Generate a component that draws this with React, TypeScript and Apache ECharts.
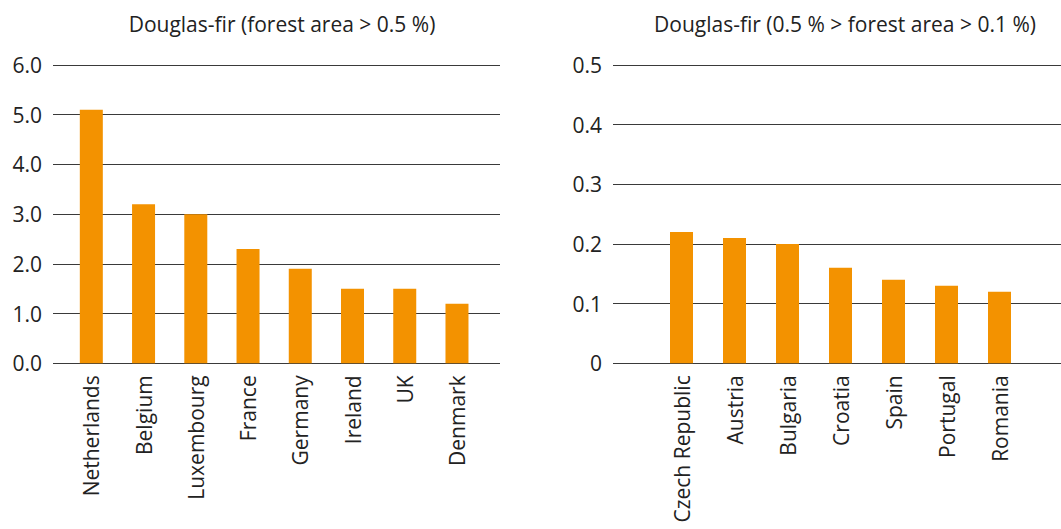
import React, { useEffect, useRef } from "react";
import * as echarts from "echarts";

const leftTitle = "Douglas-fir (forest area > 0.5 %)";
const rightTitle = "Douglas-fir (0.5 % > forest area > 0.1 %)";
const leftCategories = ["Netherlands", "Belgium", "Luxembourg", "France", "Germany", "Ireland", "UK", "Denmark"];
const leftValues = [5.1, 3.2, 3.0, 2.3, 1.9, 1.5, 1.5, 1.2];
const rightCategories = ["Czech Republic", "Austria", "Bulgaria", "Croatia", "Spain", "Portugal", "Romania"];
const rightValues = [0.22, 0.21, 0.2, 0.16, 0.14, 0.13, 0.12];

const FONT = "'Open Sans', sans-serif";
const TEXT = "#222";
const ORANGE = "#F39200";
const LINE = "#3a3a3a";
const FS = 21;

export default function App() {
  const ref = useRef<HTMLDivElement>(null);
  useEffect(() => {
    document.body.style.margin = "0";
    const chart = echarts.init(ref.current!, null, { renderer: "svg" });
    const top = 65;
    const h = 298.3;
    const yLine = (min: number, max: number, interval: number, grid: number, fmt: (v: number) => string, show: boolean) => ({
      type: "value",
      gridIndex: grid,
      min,
      max,
      interval,
      axisLine: { show: false },
      axisTick: { show: false },
      axisLabel: {
        show,
        margin: 11,
        color: TEXT,
        fontFamily: FONT,
        fontSize: FS,
        formatter: fmt,
      },
      splitLine: { show, lineStyle: { color: LINE, width: 1 } },
    });
    const xLabel = { rotate: 90, margin: 12, color: TEXT, fontFamily: FONT, fontSize: FS, interval: 0 };
    const option = {
      animation: false,
      backgroundColor: "#fff",
      textStyle: { fontFamily: FONT },
      title: [
        {
          text: leftTitle,
          left: 277,
          top: 8,
          textAlign: "center",
          textStyle: { fontFamily: FONT, fontSize: FS, fontWeight: "normal", color: TEXT },
        },
        {
          text: rightTitle,
          left: 840,
          top: 8,
          textAlign: "center",
          textStyle: { fontFamily: FONT, fontSize: FS, fontWeight: "normal", color: TEXT },
        },
      ],
      grid: [
        { left: 53, top, width: 447, height: h },
        { left: 65.2, top, width: 417.9, height: h },
        { left: 613, top, width: 448, height: h },
        { left: 655, top, width: 371, height: h },
      ],
      xAxis: [
        { type: "category", gridIndex: 0, data: leftCategories, show: false },
        {
          type: "category",
          gridIndex: 1,
          data: leftCategories,
          axisLine: { show: false },
          axisTick: { show: false },
          axisLabel: xLabel,
        },
        { type: "category", gridIndex: 2, data: rightCategories, show: false },
        {
          type: "category",
          gridIndex: 3,
          data: rightCategories,
          axisLine: { show: false },
          axisTick: { show: false },
          axisLabel: xLabel,
        },
      ],
      yAxis: [
        yLine(0, 6, 1, 0, (v: number) => v.toFixed(1), true),
        yLine(0, 6, 1, 1, (v: number) => v.toFixed(1), false),
        yLine(0, 0.5, 0.1, 2, (v: number) => (v === 0 ? "0" : v.toFixed(1)), true),
        yLine(0, 0.5, 0.1, 3, (v: number) => String(v), false),
      ],
      series: [
        {
          type: "bar",
          xAxisIndex: 1,
          yAxisIndex: 1,
          data: leftValues,
          barWidth: 23,
          itemStyle: { color: ORANGE },
          z: 5,
        },
        {
          type: "bar",
          xAxisIndex: 3,
          yAxisIndex: 3,
          data: rightValues,
          barWidth: 23,
          itemStyle: { color: ORANGE },
          z: 5,
        },
      ],
    };
    chart.setOption(option as any);
    return () => chart.dispose();
  }, []);
  return <div ref={ref} style={{ width: 1061, height: 529 }} />;
}
